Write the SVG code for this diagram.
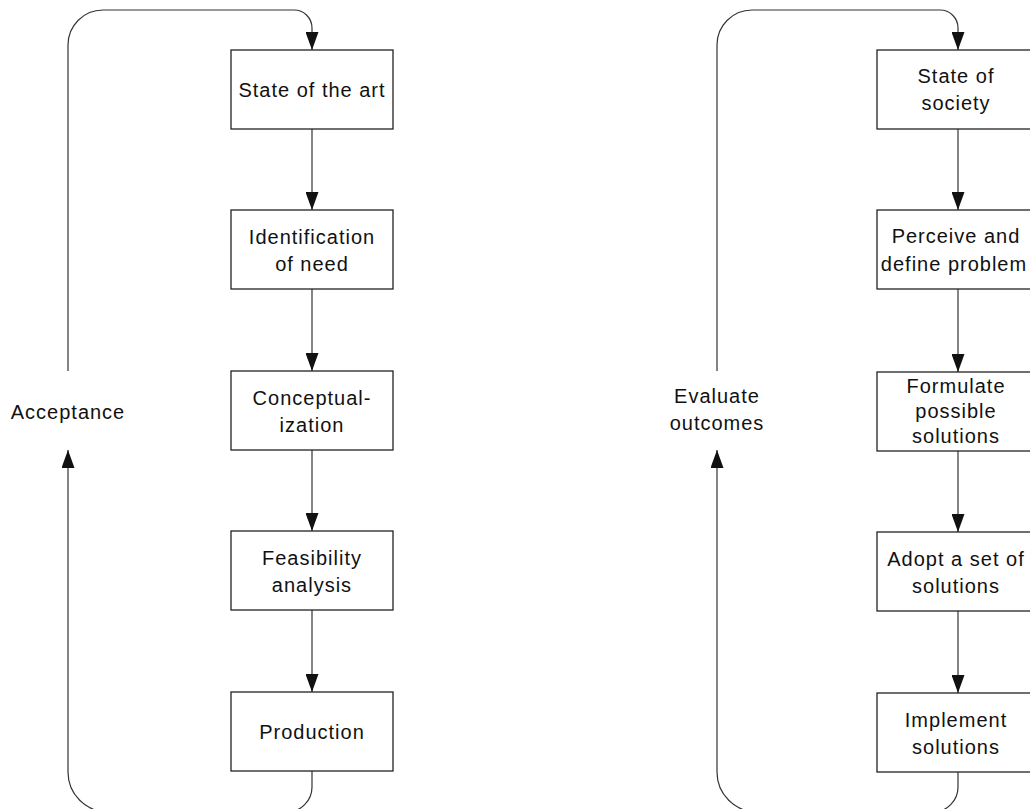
<svg xmlns="http://www.w3.org/2000/svg" width="1030" height="809" viewBox="0 0 1030 809">
<style>
.box{fill:#fff;stroke:#222;stroke-width:1.3}
.ln{fill:none;stroke:#333;stroke-width:1.2}
text{font-family:"Liberation Sans",Arial,sans-serif;font-size:20px;letter-spacing:1px;fill:#111;text-anchor:middle}
</style>
<defs>
<marker id="ah" markerUnits="userSpaceOnUse" markerWidth="18" markerHeight="13" viewBox="0 0 18 13" refX="18" refY="6.5" orient="auto">
<path d="M0,0 L18,6.5 L0,13 z" fill="#111"/>
</marker>
</defs>
<rect width="1030" height="809" fill="#fff"/>
<g id="connectors">
<path class="ln" d="M68 371 L68 45 A35 35 0 0 1 103 10 L294 10 A18 18 0 0 1 312 28 L312 50" marker-end="url(#ah)"/>
<path class="ln" d="M312 771 L312 787 A25 25 0 0 1 287 812 L108 812 A40 40 0 0 1 68 772 L68 450" marker-end="url(#ah)"/>
<path class="ln" d="M312 129 L312 210" marker-end="url(#ah)"/>
<path class="ln" d="M312 289 L312 371" marker-end="url(#ah)"/>
<path class="ln" d="M312 450 L312 531" marker-end="url(#ah)"/>
<path class="ln" d="M312 610 L312 692" marker-end="url(#ah)"/>
<path class="ln" d="M717 371 L717 45 A35 35 0 0 1 752 10 L940 10 A18 18 0 0 1 958 28 L958 50" marker-end="url(#ah)"/>
<path class="ln" d="M958 772 L958 787 A25 25 0 0 1 933 812 L757 812 A40 40 0 0 1 717 772 L717 450" marker-end="url(#ah)"/>
<path class="ln" d="M958 129 L958 210" marker-end="url(#ah)"/>
<path class="ln" d="M958 289 L958 372" marker-end="url(#ah)"/>
<path class="ln" d="M958 451 L958 532" marker-end="url(#ah)"/>
<path class="ln" d="M958 611 L958 693" marker-end="url(#ah)"/>
</g>
<g id="label-acceptance"><text x="68" y="419">Acceptance</text></g>
<g id="label-evaluate"><text x="717" y="403">Evaluate</text><text x="717" y="430">outcomes</text></g>
<g id="n-state-art"><rect class="box" x="231" y="50" width="162" height="79"/><text x="312" y="97">State of the art</text></g>
<g id="n-identification"><rect class="box" x="231" y="210" width="162" height="79"/><text x="312" y="244">Identification</text><text x="312" y="271">of need</text></g>
<g id="n-conceptualization"><rect class="box" x="231" y="371" width="162" height="79"/><text x="312" y="405">Conceptual-</text><text x="312" y="432">ization</text></g>
<g id="n-feasibility"><rect class="box" x="231" y="531" width="162" height="79"/><text x="312" y="565">Feasibility</text><text x="312" y="592">analysis</text></g>
<g id="n-production"><rect class="box" x="231" y="692" width="162" height="79"/><text x="312" y="739">Production</text></g>
<g id="n-state-society"><rect class="box" x="877" y="50" width="162" height="79"/><text x="956" y="83">State of</text><text x="956" y="110">society</text></g>
<g id="n-perceive"><rect class="box" x="877" y="210" width="162" height="79"/><text x="956" y="243">Perceive and</text><text x="954" y="271">define problem</text></g>
<g id="n-formulate"><rect class="box" x="877" y="372" width="162" height="79"/><text x="956" y="393">Formulate</text><text x="956" y="418">possible</text><text x="956" y="443">solutions</text></g>
<g id="n-adopt"><rect class="box" x="877" y="532" width="162" height="79"/><text x="956" y="566">Adopt a set of</text><text x="956" y="593">solutions</text></g>
<g id="n-implement"><rect class="box" x="877" y="693" width="162" height="79"/><text x="956" y="727">Implement</text><text x="956" y="754">solutions</text></g>
</svg>
